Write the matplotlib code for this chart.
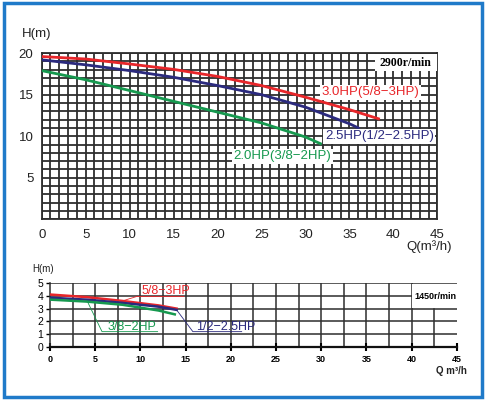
import matplotlib
matplotlib.use("Agg")
import matplotlib.pyplot as plt
from matplotlib.patches import Rectangle
import numpy as np

plt.rcParams['font.family'] = ['Liberation Sans', 'DejaVu Sans']

# ---- Top chart data (2900 r/min) ----
q_red = [0, 5, 10, 15, 20, 25, 30, 35, 38.3]
h_red = [19.6, 19.3, 18.7, 18.05, 17.2, 16.1, 14.7, 13.2, 12.1]
q_blue = [0, 5, 10, 15, 20, 25, 30, 35, 36.0]
h_blue = [19.2, 18.6, 17.9, 17.1, 16.1, 15.0, 13.5, 11.5, 11.0]
q_green = [0, 5, 10, 15, 20, 25, 30, 31.7]
h_green = [17.9, 16.8, 15.5, 14.2, 12.9, 11.6, 9.9, 9.1]
top_labels = ["3.0HP(5/8\u22123HP)", "2.5HP(1/2\u22122.5HP)", "2.0HP(3/8\u22122HP)"]
top_xticks = [0, 5, 10, 15, 20, 25, 30, 35, 40, 45]
top_yticks = [5, 10, 15, 20]

# ---- Bottom chart data (1450 r/min) ----
q2_red = [0, 4, 8, 12, 14]
h2_red = [4.1, 3.9, 3.6, 3.25, 3.0]
q2_blue = [0, 4, 8, 12, 14]
h2_blue = [3.85, 3.7, 3.45, 3.15, 2.9]
q2_green = [0, 4, 8, 12, 13.8]
h2_green = [3.7, 3.55, 3.3, 2.85, 2.55]
bot_labels = ["5/8\u22123HP", "1/2\u22122.5HP", "3/8\u22122HP"]
bot_xticks = [0, 5, 10, 15, 20, 25, 30, 35, 40, 45]
bot_yticks = [0, 1, 2, 3, 4, 5]

RED = '#e8262a'
NAVY = '#2b2a7e'
GREEN = '#16994f'
GRID = '#2e2e2e'

fig = plt.figure(figsize=(4.86, 4.0), dpi=100)
fig.patch.set_facecolor('white')

# blue outer frame
fig.patches.append(Rectangle((0.008, 0.008), 0.984, 0.984, transform=fig.transFigure,
                             fill=False, edgecolor='#1f7ac9', linewidth=2.5))

# ---------------- Top axes ----------------
ax = fig.add_axes([0.0858, 0.452, 0.8142, 0.415])
ax.set_xlim(0, 45)
ax.set_ylim(0, 20)
for v in range(0, 46):
    ax.axvline(v, color=GRID, lw=1.3, zorder=1)
for v in range(0, 21):
    ax.axhline(v, color=GRID, lw=1.3, zorder=1)
for s in ax.spines.values():
    s.set_color(GRID)
    s.set_linewidth(1.3)
ax.plot(q_red, h_red, color=RED, lw=2.0, zorder=3)
ax.plot(q_blue, h_blue, color=NAVY, lw=2.0, zorder=3)
ax.plot(q_green, h_green, color=GREEN, lw=2.0, zorder=3)
ax.set_xticks(top_xticks)
ax.set_yticks(top_yticks)
ax.tick_params(length=0, labelsize=9.5, colors='#222222', pad=7)
ax.tick_params(axis='y', pad=6)
bb = dict(facecolor='white', edgecolor='none', pad=1.0)
ax.text(31.8, 15.3, top_labels[0], color=RED, fontsize=9.5, va='center', ha='left', bbox=bb, zorder=5)
ax.text(32.2, 10.0, top_labels[1], color=NAVY, fontsize=9.5, va='center', ha='left', bbox=bb, zorder=5)
ax.text(21.8, 7.6, top_labels[2], color=GREEN, fontsize=9.5, va='center', ha='left', bbox=bb, zorder=5)
ax.add_patch(Rectangle((37.9, 17.9), 7.0, 1.95, facecolor='white', edgecolor='none', zorder=4))
ax.text(41.4, 18.85, "2900r/min", family=['Liberation Serif', 'DejaVu Serif'], fontweight='bold',
        fontsize=8.5, ha='center', va='center', zorder=5)
fig.text(0.045, 0.915, "H(m)", fontsize=9.5, color='#222222', ha='left', va='center')
fig.text(0.836, 0.383, "Q(m\u00b3/h)", fontsize=9.5, color='#222222', ha='left', va='center')

# ---------------- Bottom axes ----------------
ax2 = fig.add_axes([0.103, 0.1325, 0.837, 0.16])
ax2.set_xlim(0, 45)
ax2.set_ylim(0, 5)
for v in np.arange(2.5, 45, 2.5):
    if abs(v - 42.5) < 1e-6:
        ax2.plot([v, v], [0, 3], color=GRID, lw=1.1, zorder=1)
    else:
        ax2.axvline(v, color=GRID, lw=1.1, zorder=1)
for v in range(1, 6):
    ax2.axhline(v, color=GRID, lw=1.1, zorder=1)
ax2.add_patch(Rectangle((40.05, 3.05), 4.95, 1.9, facecolor='white', edgecolor='none', zorder=2))
ax2.text(42.6, 3.95, "1450r/min", fontweight='bold', fontsize=6.5, ha='center', va='center', zorder=5)
for k in ['top', 'right']:
    ax2.spines[k].set_visible(False)
ax2.spines['left'].set_color(GRID)
ax2.spines['left'].set_linewidth(1.1)
ax2.spines['bottom'].set_color('#111111')
ax2.spines['bottom'].set_linewidth(1.6)
ax2.plot(q2_red, h2_red, color=RED, lw=1.8, zorder=3)
ax2.plot(q2_blue, h2_blue, color=NAVY, lw=1.8, zorder=3)
ax2.plot(q2_green, h2_green, color=GREEN, lw=1.8, zorder=3)
ax2.set_xticks(bot_xticks)
ax2.set_yticks(bot_yticks)
ax2.tick_params(axis='x', direction='inout', length=6, width=1.5, labelsize=6.5, pad=3)
ax2.tick_params(axis='y', direction='out', length=3, width=1.0, labelsize=7.5, pad=2)
for t in ax2.get_xticklabels():
    t.set_fontweight('bold')
# annotations with leader lines
ax2.plot([8.1, 9.6, 14.8], [3.62, 3.95, 3.95], color=RED, lw=0.6, zorder=4)
ax2.text(10.1, 4.35, bot_labels[0], color=RED, fontsize=9, ha='left', va='center', zorder=5)
ax2.plot([14.0, 15.8, 21.2], [2.9, 1.2, 1.2], color=NAVY, lw=0.6, zorder=4)
ax2.text(16.2, 1.6, bot_labels[1], color=NAVY, fontsize=9, ha='left', va='center', zorder=5)
ax2.plot([4.1, 5.75, 11.9], [3.6, 1.2, 1.2], color=GREEN, lw=0.6, zorder=4)
ax2.text(6.4, 1.6, bot_labels[2], color=GREEN, fontsize=9, ha='left', va='center', zorder=5)
fig.text(0.066, 0.327, "H(m)", fontsize=7, color='#222222', ha='left', va='center')
fig.text(0.897, 0.073, "Q m\u00b3/h", fontsize=7, fontweight='bold', color='#222222', ha='left', va='center')

fig.savefig("out.png", dpi=100)
